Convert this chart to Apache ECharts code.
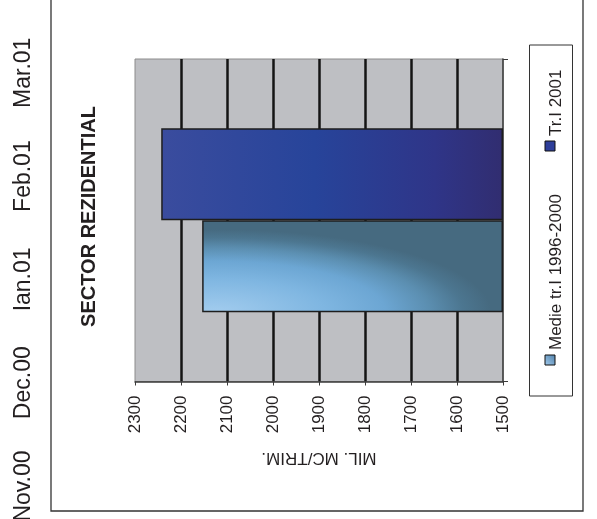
<!DOCTYPE html>
<html><head><meta charset="utf-8">
<script src="https://cdn.jsdelivr.net/npm/echarts@6/dist/echarts.min.js"></script>
<style>html,body{margin:0;padding:0;background:#fff}#c{width:597px;height:519px}</style>
</head><body><div id="c"></div>
<script>
// ---- data ----
const categories = ['SECTOR REZIDENTIAL'];
const seriesNames = ['Medie tr.I 1996-2000', 'Tr.I 2001'];
const medieValues = [2154];
const tr2001Values = [2243];
const axisMin = 1500;
const axisMax = 2300;
const axisInterval = 100;
const sideLabels = ['Nov.00', 'Dec.00', 'Ian.01', 'Feb.01', 'Mar.01'];
const axisTitle = 'MIL. MC/TRIM.';
const chartTitle = 'SECTOR REZIDENTIAL';

// ---- styles ----
const FONT = 'Liberation Sans, Arial, sans-serif';
const TXT = '#231F20';
const lightStops = [
  [0, '#A2CCEE'], [0.4, '#7FB6E1'], [0.62, '#6CA6D3'], [0.78, '#5B8EB0'], [0.9, '#4C7690'], [1, '#466A80']
];
const darkGrad = new echarts.graphic.LinearGradient(0, 0, 1, 0, [
  {offset: 0, color: '#3A4C9E'},
  {offset: 0.45, color: '#27449A'},
  {offset: 0.8, color: '#2F3588'},
  {offset: 1, color: '#312D70'}
]);

const chart = echarts.init(document.getElementById('c'), null, {renderer: 'canvas'});

const graphics = [
  {type: 'rect', shape: {x: 51, y: -5, width: 532, height: 516}, style: {fill: 'none', stroke: '#333', lineWidth: 1.3}, z: 0},
  {type: 'text', x: 89, y: 216.5, rotation: Math.PI / 2,
   style: {text: chartTitle, font: 'bold 20px ' + FONT, fill: TXT, align: 'center', verticalAlign: 'middle'}},
  // legend
  {type: 'rect', shape: {x: 529.5, y: 45, width: 43, height: 351}, style: {fill: '#fff', stroke: '#333', lineWidth: 1}},
  {type: 'rect', shape: {x: 545, y: 355, width: 10, height: 10}, style: {fill: new echarts.graphic.LinearGradient(0,1,1,0,[{offset:0,color:'#A2CCEE'},{offset:1,color:'#4F7FA8'}]), stroke: '#111', lineWidth: 1}},
  {type: 'text', x: 556, y: 350, rotation: Math.PI / 2,
   style: {text: seriesNames[0], font: '17px ' + FONT, fill: TXT, align: 'left', verticalAlign: 'middle'}},
  {type: 'rect', shape: {x: 545, y: 141, width: 10, height: 10}, style: {fill: '#2E3E9A', stroke: '#111', lineWidth: 1}},
  {type: 'text', x: 556, y: 136, rotation: Math.PI / 2,
   style: {text: seriesNames[1], font: '17px ' + FONT, fill: TXT, align: 'left', verticalAlign: 'middle'}}
];
sideLabels.forEach(function (t, i) {
  graphics.push({type: 'text', x: 24, y: 486 - i * 103.3, rotation: Math.PI / 2,
    style: {text: t, font: '23px ' + FONT, fill: TXT, align: 'center', verticalAlign: 'middle'}});
});

chart.setOption({
  animation: false,
  backgroundColor: '#fff',
  grid: {left: 135, right: 94, top: 59, bottom: 137.5, show: true, backgroundColor: '#BEBFC3', borderColor: '#8C8C8C', borderWidth: 1},
  xAxis: {
    type: 'value', min: axisMin, max: axisMax, interval: axisInterval, inverse: true, startValue: axisMin,
    position: 'bottom',
    axisLine: {show: true, onZero: false, lineStyle: {color: '#3a3a3a', width: 1.5}},
    axisTick: {show: true, length: 4, lineStyle: {color: '#3a3a3a', width: 1}},
    axisLabel: {rotate: 90, fontSize: 17, color: TXT, margin: 14, fontFamily: FONT,
      formatter: function (v) { return String(v); }},
    splitLine: {show: true, showMinLine: false, showMaxLine: false, lineStyle: {color: '#141414', width: 2.5}},
    name: axisTitle, nameLocation: 'middle', nameRotate: 180, nameGap: 68,
    nameTextStyle: {fontSize: 17, color: TXT, fontFamily: FONT}
  },
  yAxis: {
    type: 'category', data: categories, position: 'right',
    axisLine: {show: true, onZero: false, lineStyle: {color: '#3a3a3a', width: 1.5}},
    axisTick: {show: true, length: 5, lineStyle: {color: '#3a3a3a'}},
    axisLabel: {show: false}, splitLine: {show: false}
  },
  series: [
    {type: 'bar', name: seriesNames[1], data: tr2001Values, barGap: '0%', barCategoryGap: '43%',
     itemStyle: {color: darkGrad, borderColor: '#1E1E1E', borderWidth: 1.5}},
    {type: 'bar', name: seriesNames[0], data: medieValues, barGap: '0%', barCategoryGap: '43%',
     itemStyle: {color: '#6BA4CF', borderColor: '#1E1E1E', borderWidth: 1.5}}
  ],
  graphic: graphics
});

// elliptical shading for the light bar, sized from the bar's own layout
try {
  const lay = chart.getModel().getSeriesByIndex(1).getData().getItemLayout(0);
  const x0 = Math.min(lay.x, lay.x + lay.width), y0 = Math.min(lay.y, lay.y + lay.height);
  const w = Math.abs(lay.width), h = Math.abs(lay.height);
  const cv = document.createElement('canvas');
  cv.width = Math.ceil(w) + 2; cv.height = Math.ceil(h) + 2;
  const ctx = cv.getContext('2d');
  const rx = 0.92 * w, ry = 0.9 * h;
  const sx = rx / ry;
  ctx.setTransform(sx, 0, 0, 1, 0, 0);
  const cx = 0.04 * w / sx;
  const g = ctx.createRadialGradient(cx, h, 0, cx, h, ry);
  lightStops.forEach(function (s) { g.addColorStop(s[0], s[1]); });
  ctx.fillStyle = g;
  ctx.fillRect(0, 0, cv.width / sx + 1, cv.height);
  chart.setOption({series: [{}, {itemStyle: {color: {image: cv, repeat: 'no-repeat', x: x0, y: y0}}}]});
} catch (e) { console.log(e); }
</script>
</body></html>
